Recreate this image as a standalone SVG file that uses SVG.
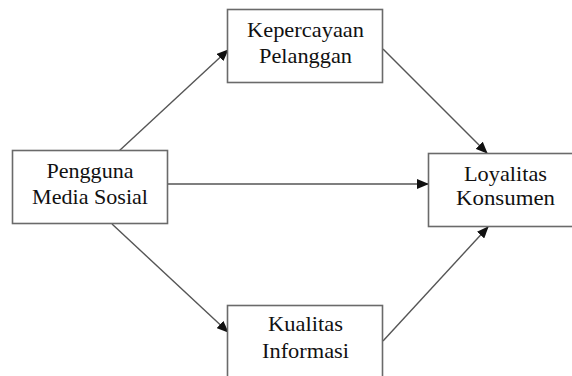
<svg xmlns="http://www.w3.org/2000/svg" width="572" height="376" viewBox="0 0 572 376">
<defs>
<style>
.box{fill:#fff;stroke:#6a6a6a;stroke-width:1.6}
.lbl{font-family:"Liberation Serif","Times New Roman",serif;font-size:21px;fill:#111;text-anchor:middle}
.edge{stroke:#555;stroke-width:1.4;fill:none;marker-end:url(#ah)}
</style>
<marker id="ah" markerWidth="12" markerHeight="10" refX="11" refY="5" orient="auto" markerUnits="userSpaceOnUse">
<path d="M0,0 L12,5 L0,10 Z" fill="#111"/>
</marker>
</defs>
<rect width="572" height="376" fill="#fff"/>
<g id="connectors">
<line class="edge" x1="119" y1="151" x2="228" y2="50"/>
<line class="edge" x1="383" y1="49" x2="487" y2="153"/>
<line class="edge" x1="167" y1="184" x2="428" y2="184"/>
<line class="edge" x1="112" y1="224" x2="228" y2="332"/>
<line class="edge" x1="383" y1="341" x2="488" y2="227"/>
</g>
<g id="pengguna">
<rect class="box" x="12.5" y="150.5" width="155" height="73"/>
<text class="lbl" x="90" y="178" textLength="87" lengthAdjust="spacingAndGlyphs">Pengguna</text>
<text class="lbl" x="90" y="204" textLength="116" lengthAdjust="spacingAndGlyphs">Media Sosial</text>
</g>
<g id="kepercayaan">
<rect class="box" x="227.5" y="9.5" width="155" height="73"/>
<text class="lbl" x="305.5" y="37" textLength="117" lengthAdjust="spacingAndGlyphs">Kepercayaan</text>
<text class="lbl" x="305.5" y="63" textLength="93" lengthAdjust="spacingAndGlyphs">Pelanggan</text>
</g>
<g id="loyalitas">
<rect class="box" x="428.5" y="153.5" width="155" height="73"/>
<text class="lbl" x="505.5" y="181" textLength="83" lengthAdjust="spacingAndGlyphs">Loyalitas</text>
<text class="lbl" x="505.5" y="205" textLength="99" lengthAdjust="spacingAndGlyphs">Konsumen</text>
</g>
<g id="kualitas">
<rect class="box" x="227.5" y="305.5" width="155" height="73"/>
<text class="lbl" x="305.5" y="331" textLength="75" lengthAdjust="spacingAndGlyphs">Kualitas</text>
<text class="lbl" x="305.5" y="358" textLength="87" lengthAdjust="spacingAndGlyphs">Informasi</text>
</g>
</svg>
